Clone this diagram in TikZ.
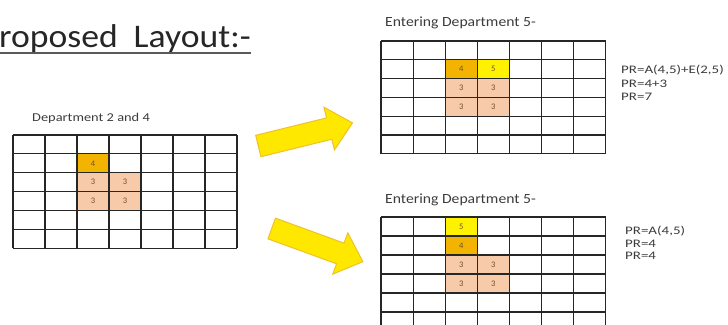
\documentclass[tikz,border=0pt]{standalone}
\usepackage{fontspec}
\setmainfont{Carlito}
\definecolor{goldcell}{RGB}{242,180,0}
\definecolor{yelcell}{RGB}{255,242,0}
\definecolor{peachcell}{RGB}{247,202,170}
\definecolor{arrowfill}{RGB}{255,232,0}
\definecolor{arrowline}{RGB}{240,192,40}
\definecolor{txtgray}{RGB}{60,60,60}
\definecolor{digit}{RGB}{110,80,50}
\tikzset{
  gridline/.style={draw=black!85, line width=1.1pt},
  lbl/.style={anchor=base west, inner sep=0pt, text=txtgray},
  cellnum/.style={inner sep=0pt, text=digit, font=\fontsize{8.5}{9}\selectfont},
  blockarrow/.style={fill=arrowfill, draw=arrowline, line width=1pt, line join=miter},
}
% #1 x0, #2 y0, #3 cell w, #4 cell h, #5 rows
\newcommand\drawtable[5]{%
  \foreach \i in {0,...,7}{\draw[gridline] ({#1+\i*#3},#2) -- ({#1+\i*#3},{#2+#5*#4});}
  \foreach \j in {0,...,#5}{\draw[gridline] (#1,{#2+\j*#4}) -- ({#1+7*#3},{#2+\j*#4});}
}
% #1 x0,#2 y0,#3 w,#4 h,#5 col,#6 row,#7 colour,#8 text,#9 name
\newcommand\cellfill[9]{%
  \fill[#7] ({#1+#5*#3},{#2+#6*#4}) rectangle ({#1+(#5+1)*#3},{#2+(#6+1)*#4});
  \node[cellnum] (#9) at ({#1+(#5+0.5)*#3},{#2+(#6+0.5)*#4}) {#8};
}
\begin{document}
\begin{tikzpicture}[x=1pt,y=-1pt]
\useasboundingbox (0,0) rectangle (728,324);
\clip (0,0) rectangle (728,324);

% title
\node[anchor=base west, inner sep=0pt, text=black!85] (title) at (-1,47)
  {\fontsize{33}{38}\selectfont\scalebox{1.08}[1]{roposed\hspace{0.45em}Layout:-}};
\draw[black!65, line width=2pt] (0,52.5) -- (251,52.5);

% left table
\node[lbl] (lab1) at (32,121.5) {\fontsize{12}{14}\selectfont\scalebox{1.2}[1]{Department 2 and 4}};
\cellfill{13}{135}{32}{18.9}{2}{1}{goldcell}{4}{a4}
\cellfill{13}{135}{32}{18.9}{2}{2}{peachcell}{3}{a31}
\cellfill{13}{135}{32}{18.9}{3}{2}{peachcell}{3}{a32}
\cellfill{13}{135}{32}{18.9}{2}{3}{peachcell}{3}{a33}
\cellfill{13}{135}{32}{18.9}{3}{3}{peachcell}{3}{a34}
\drawtable{13}{135}{32}{18.9}{6}

% top right table
\node[lbl] (lab2) at (385,26) {\fontsize{14}{16}\selectfont\scalebox{1.12}[1]{Entering Department 5-}};
\cellfill{381}{41}{32.1}{18.8}{2}{1}{goldcell}{4}{b4}
\cellfill{381}{41}{32.1}{18.8}{3}{1}{yelcell}{5}{b5}
\cellfill{381}{41}{32.1}{18.8}{2}{2}{peachcell}{3}{b31}
\cellfill{381}{41}{32.1}{18.8}{3}{2}{peachcell}{3}{b32}
\cellfill{381}{41}{32.1}{18.8}{2}{3}{peachcell}{3}{b33}
\cellfill{381}{41}{32.1}{18.8}{3}{3}{peachcell}{3}{b34}
\drawtable{381}{41}{32.1}{18.8}{6}
\node[lbl] (pr1) at (621,73) {\fontsize{11.5}{14}\selectfont\scalebox{1.3}[1]{PR=A(4,5)+E(2,5)}};
\node[lbl] (pr2) at (621,87) {\fontsize{11.5}{14}\selectfont\scalebox{1.3}[1]{PR=4+3}};
\node[lbl] (pr3) at (621,100.5) {\fontsize{11.5}{14}\selectfont\scalebox{1.3}[1]{PR=7}};

% bottom right table
\node[lbl] (lab3) at (385,203) {\fontsize{14}{16}\selectfont\scalebox{1.12}[1]{Entering Department 5-}};
\cellfill{381}{217}{32.1}{19}{2}{0}{yelcell}{5}{c5}
\cellfill{381}{217}{32.1}{19}{2}{1}{goldcell}{4}{c4}
\cellfill{381}{217}{32.1}{19}{2}{2}{peachcell}{3}{c31}
\cellfill{381}{217}{32.1}{19}{3}{2}{peachcell}{3}{c32}
\cellfill{381}{217}{32.1}{19}{2}{3}{peachcell}{3}{c33}
\cellfill{381}{217}{32.1}{19}{3}{3}{peachcell}{3}{c34}
\drawtable{381}{217}{32.1}{19}{6}
\node[lbl] (pr4) at (625,234.5) {\fontsize{11.5}{14}\selectfont\scalebox{1.3}[1]{PR=A(4,5)}};
\node[lbl] (pr5) at (625,247) {\fontsize{11.5}{14}\selectfont\scalebox{1.3}[1]{PR=4}};
\node[lbl] (pr6) at (625,259) {\fontsize{11.5}{14}\selectfont\scalebox{1.3}[1]{PR=4}};

% block arrows
\begin{scope}[shift={(258.3,146)}, rotate=13.8]
  \draw[blockarrow] (0,-11) -- (73,-11) -- (73,-22) -- (97,0) -- (73,22) -- (73,11) -- (0,11) -- cycle;
\end{scope}
\begin{scope}[shift={(271.7,228.5)}, rotate=-20]
  \draw[blockarrow] (0,-11) -- (73,-11) -- (73,-22) -- (97,0) -- (73,22) -- (73,11) -- (0,11) -- cycle;
\end{scope}
\end{tikzpicture}
\end{document}
